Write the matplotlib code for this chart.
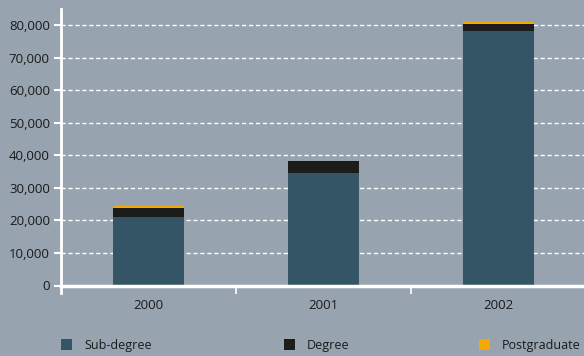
import numpy as np
import matplotlib.pyplot as plt
from matplotlib.patches import Rectangle

years = ["2000", "2001", "2002"]
sub_degree = [21000, 34600, 78200]
degree = [2800, 3600, 2100]
postgraduate = [700, 0, 600]

BG = "#97a4b0"
COLORS = ["#345565", "#1c1c1a", "#f5a800"]
LABELS = ["Sub-degree", "Degree", "Postgraduate"]
TEXT = "#1a1a1a"

plt.rcParams["font.family"] = ["Open Sans", "DejaVu Sans"]

fig = plt.figure(figsize=(5.84, 3.56), dpi=100, facecolor=BG)
ax = fig.add_axes([61 / 584, 70.5 / 356, 523 / 584, 276.5 / 356])
ax.set_facecolor(BG)

x = np.arange(len(years))
bottom = np.zeros(len(years))
for vals, c in zip([sub_degree, degree, postgraduate], COLORS):
    ax.bar(x, vals, width=0.405, bottom=bottom, color=c, linewidth=0, zorder=3)
    bottom += np.array(vals)

ax.set_xlim(-0.5, 2.486)
ax.set_ylim(0, 84900)
yt = np.arange(0, 80001, 10000)
ax.set_yticks(yt)
ax.set_yticklabels([f"{v:,}" for v in yt])
ax.set_xticks(x)
ax.set_xticklabels(years)
ax.set_xticks([0.5, 1.5], minor=True)
ax.tick_params(axis="x", which="major", length=0, pad=10, labelsize=9.5, labelcolor=TEXT)
ax.tick_params(axis="x", which="minor", length=6, width=1.2, color="white", direction="out")
ax.tick_params(axis="y", length=5, width=1.5, color="white", pad=3, labelsize=9.5, labelcolor=TEXT)

for v in yt[1:]:
    ax.axhline(v, color="white", linestyle=(0, (3, 2)), linewidth=1, zorder=1)

for s in ["top", "right"]:
    ax.spines[s].set_visible(False)
ax.spines["left"].set_color("white")
ax.spines["left"].set_linewidth(2)
ax.spines["left"].set_bounds(-2200, 84900)
ax.spines["bottom"].set_color("white")
ax.spines["bottom"].set_linewidth(2.5)
ax.spines["bottom"].set_zorder(4)

# legend row along the bottom
leg_x = [61, 284, 479]
for lx, c, lab in zip(leg_x, COLORS, LABELS):
    fig.patches.append(Rectangle((lx / 584, (356 - 350) / 356), 11 / 584, 11 / 356,
                                 transform=fig.transFigure, color=c, linewidth=0))
    fig.text((lx + 23) / 584, (356 - 345) / 356, lab, fontsize=9, color=TEXT,
             va="center", ha="left")

fig.savefig("out.png", dpi=100, facecolor=BG)
